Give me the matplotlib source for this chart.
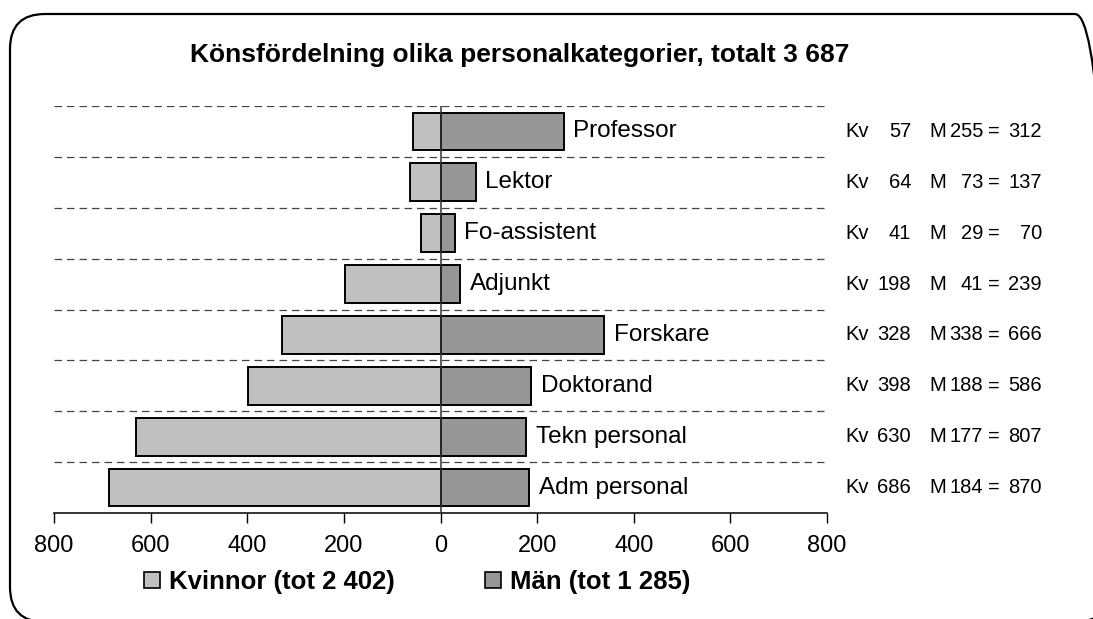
import matplotlib
matplotlib.use("Agg")
import matplotlib.pyplot as plt
import matplotlib.transforms as mtrans
from matplotlib.patches import FancyBboxPatch, Patch
from matplotlib.ticker import FuncFormatter

plt.rcParams['font.family'] = ['Liberation Sans', 'DejaVu Sans']

# data
categories = ["Professor", "Lektor", "Fo-assistent", "Adjunkt",
              "Forskare", "Doktorand", "Tekn personal", "Adm personal"]
kvinnor = [57, 64, 41, 198, 328, 398, 630, 686]
man = [255, 73, 29, 41, 338, 188, 177, 184]
totals = [312, 137, 70, 239, 666, 586, 807, 870]
xticks = [-800, -600, -400, -200, 0, 200, 400, 600, 800]

title = "Könsfördelning olika personalkategorier, totalt 3 687"
label_kv = "Kvinnor (tot 2 402)"
label_m = "Män (tot 1 285)"

col_kv = "#c0c0c0"
col_m = "#969696"

W, H = 1093, 619
fig = plt.figure(figsize=(W / 100, H / 100), dpi=100)
ax = fig.add_axes([54 / W, 1 - 513 / H, (827 - 54) / W, (513 - 106) / H])

ypos = list(range(len(categories)))
neg_kv = [-v for v in kvinnor]
ax.barh(ypos, neg_kv, height=0.74, color=col_kv, edgecolor="black", linewidth=1.4, zorder=2)
ax.barh(ypos, man, height=0.74, color=col_m, edgecolor="black", linewidth=1.4, zorder=2)

ax.set_xlim(-800, 800)
ax.set_ylim(len(categories) - 0.5, -0.5)

# dashed separators at the top of each row
for i in ypos:
    ax.axhline(i - 0.5, color="#444444", linestyle=(0, (6, 4)), linewidth=0.9, zorder=1)

ax.axvline(0, color="#333333", linewidth=1.1, zorder=3)

# category labels just after the male bar
for i, (cat, m) in enumerate(zip(categories, man)):
    ax.annotate(cat, xy=(m, i), xytext=(7, 0), textcoords="offset points",
                ha="left", va="center", fontsize=17.5)

# summary text to the right of the plot
blend = mtrans.blended_transform_factory(fig.transFigure, ax.transData)
fs = 14.5
for i, (k, m, t) in enumerate(zip(kvinnor, man, totals)):
    ax.text(845 / W, i, "Kv", transform=blend, ha="left", va="center", fontsize=fs)
    ax.text(911 / W, i, str(k), transform=blend, ha="right", va="center", fontsize=fs)
    ax.text(929 / W, i, "M", transform=blend, ha="left", va="center", fontsize=fs)
    ax.text(983 / W, i, str(m), transform=blend, ha="right", va="center", fontsize=fs)
    ax.text(994 / W, i, "=", transform=blend, ha="center", va="center", fontsize=fs)
    ax.text(1042 / W, i, str(t), transform=blend, ha="right", va="center", fontsize=fs)

ax.set_xticks(xticks)
ax.xaxis.set_major_formatter(FuncFormatter(lambda v, p: f"{abs(int(v))}"))
ax.tick_params(axis="x", direction="out", length=7, width=1, pad=9, labelsize=17)
ax.set_yticks([])
for s in ["left", "right", "top"]:
    ax.spines[s].set_visible(False)
ax.spines["bottom"].set_linewidth(1.1)

fig.text(520 / W, 1 - 55 / H, title, ha="center", va="center", fontsize=19, fontweight="bold")

handles = [Patch(facecolor=col_kv, edgecolor="black", linewidth=1.2),
           Patch(facecolor=col_m, edgecolor="black", linewidth=1.2)]
fig.legend(handles, [label_kv, label_m], loc="center", bbox_to_anchor=(417 / W, 1 - 582 / H),
           ncol=2, frameon=False, handlelength=0.62, handleheight=0.62,
           handletextpad=0.35, columnspacing=3.5, borderpad=0,
           prop={"size": 18.5, "weight": "bold"})

# rounded outer frame (bottom and right edges run just past the image)
frame = FancyBboxPatch((10, -3), 1100, 619 + 3 - 14,
                       boxstyle="round,pad=0,rounding_size=35",
                       transform=mtrans.IdentityTransform(), facecolor="none",
                       edgecolor="black", linewidth=1.6)
fig.patches.append(frame)

fig.savefig("out.png", dpi=100)
